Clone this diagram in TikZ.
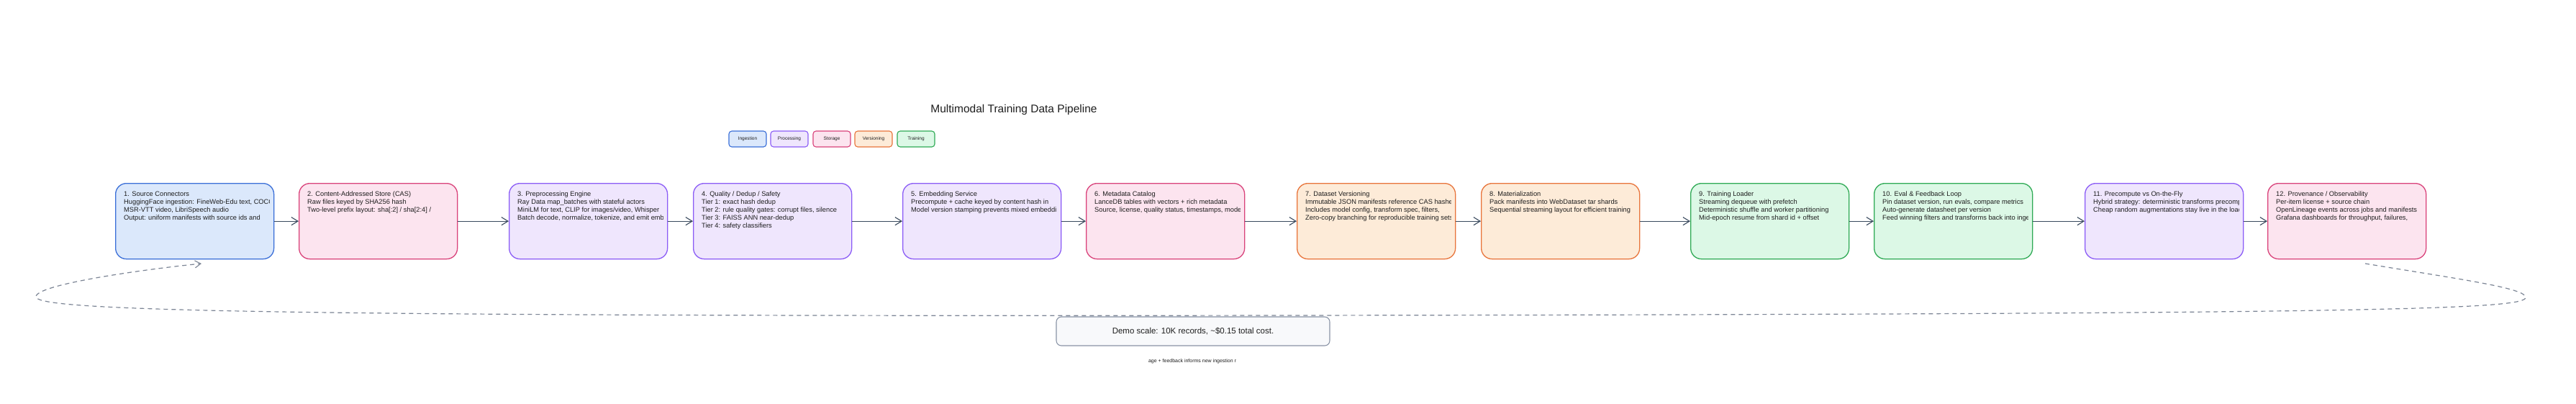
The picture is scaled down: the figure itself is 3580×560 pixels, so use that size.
\documentclass[tikz,border=0pt]{standalone}
\usepackage{fontspec}
\setmainfont{Liberation Sans}
\usetikzlibrary{arrows.meta}
\definecolor{bS}{HTML}{3B6FD8}\definecolor{bF}{HTML}{DBE8FB}
\definecolor{pS}{HTML}{8B5CF6}\definecolor{pF}{HTML}{EFE6FD}
\definecolor{rS}{HTML}{D9427A}\definecolor{rF}{HTML}{FCE4EF}
\definecolor{oS}{HTML}{E8743B}\definecolor{oF}{HTML}{FDEBD8}
\definecolor{gS}{HTML}{2FAA55}\definecolor{gF}{HTML}{DCF8E6}
\definecolor{nS}{HTML}{8A94A6}\definecolor{nF}{HTML}{F8F9FB}
\definecolor{ink}{HTML}{3A4A5E}
\definecolor{txt}{HTML}{1E1E1E}
\tikzset{
  stagebox/.style={draw=#1S, fill=#1F, line width=1.3pt, rounded corners=15pt, minimum width=220pt, minimum height=105pt, anchor=north west, inner sep=0pt},
  legbox/.style={draw=#1S, fill=#1F, line width=1.1pt, rounded corners=4pt, minimum width=52pt, minimum height=22pt, inner sep=0pt, font=\fontsize{6.5}{7}\selectfont, text=txt},
  flow/.style={draw=ink, line width=1.1pt, -{Straight Barb[length=9pt,width=11pt,line width=1.1pt]}},
  loopline/.style={draw=nS!90!black, line width=1.2pt, dashed, dash pattern=on 6pt off 5pt},
  body/.style={anchor=north west, align=left, inner sep=0pt, font=\fontsize{9.3}{11}\selectfont, text=txt}
}
\newcommand\stagebox[5]{%
  \node[stagebox=#3] (#1) at (#2,254) {};
  \begin{scope}
    \clip (#2+8,254) rectangle (#2+214,359);
    \node[body] (#1t) at (#2+12,266) {#4\\#5};
  \end{scope}}
\begin{document}
\begin{tikzpicture}[x=1pt,y=-1pt]
\useasboundingbox[fill=white] (0,0) rectangle (3580,560);
\node[font=\fontsize{15.5}{17}\selectfont, text=txt] (title) at (1409,152) {Multimodal Training Data Pipeline};
\node[legbox=b] (l1) at (1039,193) {Ingestion};
\node[legbox=p] (l2) at (1097,193) {Processing};
\node[legbox=r] (l3) at (1156,193) {Storage};
\node[legbox=o] (l4) at (1214,193) {Versioning};
\node[legbox=g] (l5) at (1273,193) {Training};

\stagebox{s1}{160}{b}{1. Source Connectors}{HuggingFace ingestion: FineWeb-Edu text, COCO\\MSR-VTT video, LibriSpeech audio\\Output: uniform manifests with source ids and}
\stagebox{s2}{415}{r}{2. Content-Addressed Store (CAS)}{Raw files keyed by SHA256 hash\\Two-level prefix layout: sha[:2] / sha[2:4] /}
\stagebox{s3}{707}{p}{3. Preprocessing Engine}{Ray Data map\_batches with stateful actors\\MiniLM for text, CLIP for images/video, Whisper\\Batch decode, normalize, tokenize, and emit embeddings}
\stagebox{s4}{963}{p}{4. Quality / Dedup / Safety}{Tier 1: exact hash dedup\\Tier 2: rule quality gates: corrupt files, silence\\Tier 3: FAISS ANN near-dedup\\Tier 4: safety classifiers}
\stagebox{s5}{1254}{p}{5. Embedding Service}{Precompute + cache keyed by content hash in\\Model version stamping prevents mixed embeddings}
\stagebox{s6}{1509}{r}{6. Metadata Catalog}{LanceDB tables with vectors + rich metadata\\Source, license, quality status, timestamps, model}
\stagebox{s7}{1802}{o}{7. Dataset Versioning}{Immutable JSON manifests reference CAS hashes\\Includes model config, transform spec, filters,\\Zero-copy branching for reproducible training sets}
\stagebox{s8}{2058}{o}{8. Materialization}{Pack manifests into WebDataset tar shards\\Sequential streaming layout for efficient training}
\stagebox{s9}{2349}{g}{9. Training Loader}{Streaming dequeue with prefetch\\Deterministic shuffle and worker partitioning\\Mid-epoch resume from shard id + offset}
\stagebox{s10}{2604}{g}{10. Eval \& Feedback Loop}{Pin dataset version, run evals, compare metrics\\Auto-generate datasheet per version\\Feed winning filters and transforms back into ingestion}
\stagebox{s11}{2897}{p}{11. Precompute vs On-the-Fly}{Hybrid strategy: deterministic transforms precomputed\\Cheap random augmentations stay live in the loader}
\stagebox{s12}{3151}{r}{12. Provenance / Observability}{Per-item license + source chain\\OpenLineage events across jobs and manifests\\Grafana dashboards for throughput, failures,}

\foreach \a/\b in {s1/s2,s2/s3,s3/s4,s4/s5,s5/s6,s6/s7,s7/s8,s8/s9,s9/s10,s10/s11,s11/s12}
  \draw[flow] (\a.east) -- (\b.west);

\coordinate (ls) at (3287,366);
\coordinate (le) at (280,366);
\draw[loopline, -{Straight Barb[length=8pt,width=10pt,line width=1.1pt]}] (ls) .. controls (3420,388) and (3510,400) .. (3510,413)
  .. controls (3510,430) and (3300,436) .. (1790,438)
  .. controls (300,440) and (50,430) .. (50,412)
  .. controls (50,395) and (200,374) .. (le);

\node[draw=nS, fill=nF, line width=1.1pt, rounded corners=7pt, minimum width=380pt, minimum height=40pt, inner sep=0pt, font=\fontsize{11.5}{12}\selectfont, text=txt] (note) at (1658,460) {Demo scale: 10K records, \textasciitilde\$0.15 total cost.};
\node[font=\fontsize{7}{8}\selectfont, text=txt] (looplabel) at (1657,502) {age + feedback informs new ingestion r};
\end{tikzpicture}
\end{document}
